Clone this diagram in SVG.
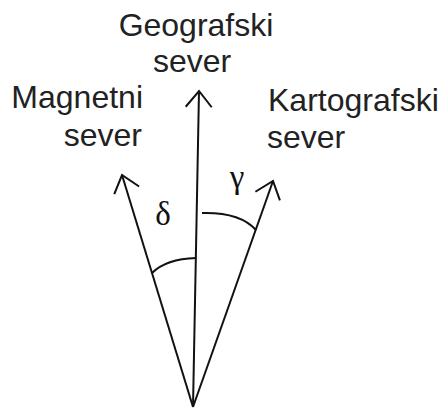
<svg xmlns="http://www.w3.org/2000/svg" width="442" height="413" viewBox="0 0 442 413">
<style>
.lbl{font-family:"Liberation Sans",Arial,sans-serif;font-size:32px;fill:#222}
.greek{font-family:"Liberation Serif","Times New Roman",serif;font-size:33px;fill:#111}
.ln{stroke:#111;stroke-width:2;fill:none}
</style>
<defs>
<marker id="ah" markerUnits="userSpaceOnUse" markerWidth="40" markerHeight="40" viewBox="-20 -20 40 40" refX="0" refY="0" orient="auto">
<path d="M-16,-13 L0,0 L-16,13" fill="none" stroke="#111" stroke-width="2"/>
</marker>
</defs>
<rect width="442" height="413" fill="#fff"/>
<g id="connectors">
<path class="ln" d="M193,407 L199,91" marker-end="url(#ah)"/>
<path class="ln" d="M193,407 L122,175" marker-end="url(#ah)"/>
<path class="ln" d="M193,407 L273,181" marker-end="url(#ah)"/>
<path class="ln" d="M152,273 Q166,259 196,258"/>
<path class="ln" d="M202,213 Q240,212 256,230"/>
</g>
<g id="geografski">
<text class="lbl" x="196" y="36" text-anchor="middle">Geografski</text>
<text class="lbl" x="192" y="72" text-anchor="middle">sever</text>
</g>
<g id="magnetni">
<text class="lbl" x="143" y="108" text-anchor="end">Magnetni</text>
<text class="lbl" x="142" y="146" text-anchor="end">sever</text>
</g>
<g id="kartografski">
<text class="lbl" x="268" y="111" text-anchor="start">Kartografski</text>
<text class="lbl" x="267" y="148" text-anchor="start">sever</text>
</g>
<g id="delta"><text class="greek" x="163" y="225" text-anchor="middle">δ</text></g>
<g id="gamma"><text class="greek" x="237" y="188" text-anchor="middle">γ</text></g>
</svg>
